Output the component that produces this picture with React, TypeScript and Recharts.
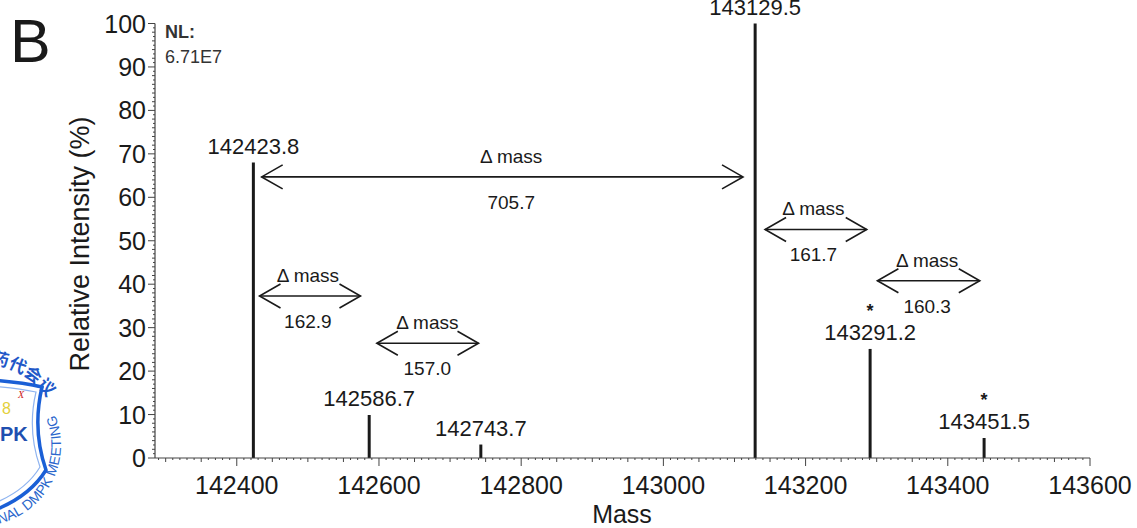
import React from 'react';
import { ComposedChart, Bar, XAxis, YAxis, LabelList, ReferenceLine } from 'recharts';

// deconvoluted peaks
const peakMass = [142423.8, 142586.7, 142743.7, 143129.5, 143291.2, 143451.5];
const peakIntensity = [68, 9.9, 3.1, 100, 25.1, 4.6];
const starredPeaks = [143291.2, 143451.5];

// delta-mass arrows
const arrowFrom = [142435, 142432, 142597, 143143, 143301];
const arrowTo = [143112, 142574, 142740, 143286, 143445];
const arrowLevel = [64.7, 37.3, 26.4, 52.6, 40.8];
const arrowLabelAt = [142786, 142500, 142668, 143211, 143371];
const arrowDelta = ['705.7', '162.9', '157.0', '161.7', '160.3'];

const xMajor = [142400, 142600, 142800, 143000, 143200, 143400, 143600];
const yMajor = [0, 10, 20, 30, 40, 50, 60, 70, 80, 90, 100];

const X_MIN = 142285;
const X_MAX = 143600;

const data = peakMass.map((m, i) => ({ mass: m, intensity: peakIntensity[i] }));

const xTickValues: number[] = [];
for (let v = 142290; v <= X_MAX; v += 10) xTickValues.push(v);
const yTickValues: number[] = [];
for (let v = 0; v <= 100; v += 1) yTickValues.push(v);

const INK = '#1a1a1a';
const AXIS = '#444';
const FONT = '"Liberation Sans", Arial, sans-serif';

const XTick = (props: any) => {
  const { x, y, payload } = props;
  const v = payload.value;
  const major = xMajor.includes(v);
  const len = major ? 8 : v % 50 === 0 ? 4 : 2;
  return (
    <g>
      <line x1={x} y1={y} x2={x} y2={y + len} stroke={AXIS} strokeWidth={1} />
      {major && (
        <text x={x} y={y + 36} textAnchor="middle" fontSize={25} fill={INK} fontFamily={FONT}>
          {v}
        </text>
      )}
    </g>
  );
};

const YTick = (props: any) => {
  const { x, y, payload } = props;
  const v = payload.value;
  const major = yMajor.includes(v);
  const len = major ? 7 : v % 2 === 0 ? 3 : 2;
  return (
    <g>
      <line x1={x} y1={y} x2={x - len} y2={y} stroke={AXIS} strokeWidth={1} />
      {major && (
        <text x={x - 9} y={y + 9} textAnchor="end" fontSize={25} fill={INK} fontFamily={FONT}>
          {v}
        </text>
      )}
    </g>
  );
};

const PeakLabel = (props: any) => {
  const { x, y, width, value } = props;
  const cx = x + width / 2;
  const star = starredPeaks.includes(value);
  return (
    <g>
      <text x={cx} y={y - 9} textAnchor="middle" fontSize={22} fill={INK} fontFamily={FONT}>
        {Number(value).toFixed(1)}
      </text>
      {star && (
        <text x={cx} y={y - 32} textAnchor="middle" fontSize={18} fontWeight="bold" fill={INK} fontFamily={FONT}>
          *
        </text>
      )}
    </g>
  );
};

const arrowShape = (i: number) => (p: any) => {
  const { x1, y1, x2 } = p;
  const lx = x1 + ((arrowLabelAt[i] - arrowFrom[i]) / (arrowTo[i] - arrowFrom[i])) * (x2 - x1);
  const head = 21;
  const spread = 12;
  return (
    <g>
      <line x1={x1} y1={y1} x2={x2} y2={y1} stroke={INK} strokeWidth={1.6} />
      <polyline
        points={`${x1 + head},${y1 - spread} ${x1},${y1} ${x1 + head},${y1 + spread}`}
        fill="none"
        stroke={INK}
        strokeWidth={1.6}
      />
      <polyline
        points={`${x2 - head},${y1 - spread} ${x2},${y1} ${x2 - head},${y1 + spread}`}
        fill="none"
        stroke={INK}
        strokeWidth={1.6}
      />
      <text x={lx} y={y1 - 14} textAnchor="middle" fontSize={19} fill={INK} fontFamily={FONT}>
        Δ mass
      </text>
      <text x={lx} y={y1 + 32} textAnchor="middle" fontSize={19} fill={INK} fontFamily={FONT}>
        {arrowDelta[i]}
      </text>
    </g>
  );
};

// conference badge in the lower left corner, mostly cropped like the source figure
const Logo = () => (
  <g>
    <defs>
      <path id="ringTop" d="M -91 404 A 82 82 0 0 1 47.2 398" />
      <path id="ringBottom" d="M -99.8 459.1 A 81 81 0 1 0 55.1 414.7" />
    </defs>
    <text fontSize={17} fontWeight="bold" fill="#1f58c8" fontFamily='"Noto Sans CJK SC", sans-serif'>
      <textPath href="#ringTop" startOffset="100%" textAnchor="end">
        药代会议
      </textPath>
    </text>
    <text fontSize={14} fill="#2a66cc" fontFamily={FONT}>
      <textPath href="#ringBottom" startOffset="100%" textAnchor="end">
        NAL DMPK MEETING
      </textPath>
    </text>
    <path
      d="M -10 380 Q 20 382 42 387 Q 32 430 46 470 Q 30 496 -5 510"
      fill="none"
      stroke="#1a5fd6"
      strokeWidth={3.5}
    />
    <path
      d="M -10 386 Q 18 388 36 392 Q 27 430 40 467 Q 26 490 -5 503"
      fill="none"
      stroke="#8fb4f0"
      strokeWidth={1.2}
    />
    <text x={0} y={441} fontSize={20} fontWeight="bold" fill="#1f4fb0" fontFamily={FONT}>
      PK
    </text>
    <text x={2} y={414} fontSize={16} fill="#e3cf3a" fontFamily={FONT}>
      8
    </text>
    <text x={18} y={398} fontSize={10} fontStyle="italic" fill="#cc2222" fontFamily="serif">
      X
    </text>
  </g>
);

export default function App() {
  return (
    <div style={{ position: 'absolute', left: 0, top: 0, width: 1137, height: 528, background: '#fff', fontFamily: FONT }}>
      <ComposedChart
        width={1137}
        height={528}
        data={data}
        margin={{ top: 23.5, right: 47, left: 95, bottom: 40 }}
      >
        <XAxis
          dataKey="mass"
          type="number"
          domain={[X_MIN, X_MAX]}
          allowDataOverflow
          ticks={xTickValues}
          interval={0}
          tickSize={0}
          tickMargin={0}
          tickLine={false}
          tick={<XTick />}
          height={30}
          axisLine={{ stroke: AXIS, strokeWidth: 1.2 }}
        />
        <YAxis
          type="number"
          domain={[0, 100]}
          ticks={yTickValues}
          interval={0}
          tickSize={0}
          tickMargin={0}
          tickLine={false}
          tick={<YTick />}
          width={60}
          axisLine={{ stroke: AXIS, strokeWidth: 1.2 }}
        />
        <Bar dataKey="intensity" fill={INK} barSize={3} isAnimationActive={false}>
          <LabelList dataKey="mass" content={<PeakLabel />} />
        </Bar>
        {arrowFrom.map((from, i) => (
          <ReferenceLine
            key={`arrow-${i}`}
            segment={[
              { x: from, y: arrowLevel[i] },
              { x: arrowTo[i], y: arrowLevel[i] },
            ]}
            ifOverflow="visible"
            shape={arrowShape(i)}
          />
        ))}
      </ComposedChart>
      <svg
        width={1137}
        height={528}
        style={{ position: 'absolute', left: 0, top: 0, pointerEvents: 'none' }}
      >
        <text x={10} y={62} fontSize={61} fill={INK} fontFamily={FONT}>
          B
        </text>
        <text x={165} y={38} fontSize={18} fontWeight="bold" fill="#333" fontFamily={FONT}>
          NL:
        </text>
        <text x={165} y={63} fontSize={18} fill="#333" fontFamily={FONT}>
          6.71E7
        </text>
        <text
          x={0}
          y={0}
          transform="translate(89 244) rotate(-90)"
          textAnchor="middle"
          fontSize={27}
          fill={INK}
          fontFamily={FONT}
        >
          Relative Intensity (%)
        </text>
        <text x={622} y={523} textAnchor="middle" fontSize={25} fill={INK} fontFamily={FONT}>
          Mass
        </text>
        <Logo />
      </svg>
    </div>
  );
}
